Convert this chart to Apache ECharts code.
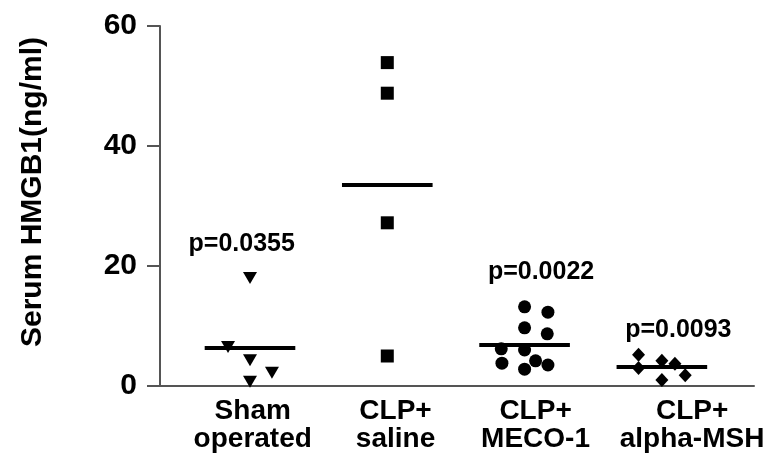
<!DOCTYPE html>
<html>
<head>
<meta charset="utf-8">
<script src="https://cdn.jsdelivr.net/npm/echarts@6/dist/echarts.min.js"></script>
<style>html,body{margin:0;padding:0;background:#fff}#c{width:772px;height:463px}</style>
</head>
<body>
<div id="c"></div>
<script>
// ---- data ----
const categories = ['Sham\noperated', 'CLP+\nsaline', 'CLP+\nMECO-1', 'CLP+\nalpha-MSH'];
const shamValues = [18, 6.5, 4.3, 2.2, 0.7];
const shamJitter = [0, -0.16, 0, 0.16, 0];
const salineValues = [53.9, 48.8, 27.2, 5.0];
const salineJitter = [0, 0, 0, 0];
const mecoValues = [13.2, 12.3, 9.7, 8.7, 6.2, 6.0, 3.8, 2.8, 4.2, 3.5];
const mecoJitter = [0, 0.17, 0, 0.165, -0.17, 0, -0.165, 0, 0.08, 0.17];
const alphaValues = [5.2, 3.0, 4.2, 3.7, 1.8, 1.0];
const alphaJitter = [-0.17, -0.17, 0, 0.095, 0.17, 0];
const groupMeans = [6.3, 33.5, 6.8, 3.2];
const pLabels = ['p=0.0355', '', 'p=0.0022', 'p=0.0093'];
const pLabelY = [23.7, null, 19, 9.3];
const pLabelShift = [-0.06, 0, 0.12, 0.12];
const xLabelShift = [0.02, 0.06, 0.08, 0.22];
const yTickMin = 0, yTickMax = 60, yTickStep = 20;

const FONT = 'Liberation Sans, Arial, sans-serif';
const groups = [
  {vals: shamValues, jit: shamJitter, symbol: 'triangle', rot: 180, size: [14, 12]},
  {vals: salineValues, jit: salineJitter, symbol: 'rect', rot: 0, size: 13},
  {vals: mecoValues, jit: mecoJitter, symbol: 'circle', rot: 0, size: 13},
  {vals: alphaValues, jit: alphaJitter, symbol: 'diamond', rot: 0, size: [13, 14]}
];

const series = groups.map((g, i) => {
  const c = i + 1;
  return {
    type: 'scatter',
    symbol: g.symbol,
    symbolRotate: g.rot,
    symbolSize: g.size,
    itemStyle: {color: '#000', opacity: 1},
    data: g.vals.map((v, k) => [c + g.jit[k], v]),
    silent: true,
    markLine: {
      silent: true,
      symbol: 'none',
      label: {show: false},
      lineStyle: {color: '#000', width: 4, type: 'solid', opacity: 1},
      data: [[{coord: [c - 0.33, groupMeans[i]]}, {coord: [c + 0.33, groupMeans[i]]}]]
    }
  };
});

series.push({
  type: 'scatter',
  symbolSize: 0,
  silent: true,
  itemStyle: {opacity: 1},
  data: pLabels.map((t, i) => [i + 1 + pLabelShift[i], pLabelY[i], t]).filter(d => d[2]),
  label: {
    show: true, position: 'inside',
    formatter: p => p.value[2],
    fontFamily: FONT, fontWeight: 'bold', fontSize: 25, color: '#000', opacity: 1
  }
});

const chart = echarts.init(document.getElementById('c'), null, {renderer: 'canvas'});
chart.setOption({
  backgroundColor: '#fff',
  animation: false,
  grid: {left: 160, right: 18, top: 26, bottom: 77, containLabel: false},
  xAxis: {
    type: 'value',
    min: 0.3445, max: 4.671,
    axisLine: {show: true, lineStyle: {color: '#555', width: 2}},
    axisTick: {show: false},
    splitLine: {show: false},
    axisLabel: {
      customValues: categories.map((c, i) => i + 1 + xLabelShift[i]),
      formatter: v => categories[Math.round(v) - 1],
      fontFamily: FONT, fontWeight: 'bold', fontSize: 28, lineHeight: 28,
      color: '#000', margin: 11
    }
  },
  yAxis: {
    type: 'value',
    min: yTickMin, max: yTickMax, interval: yTickStep,
    name: 'Serum HMGB1(ng/ml)',
    nameLocation: 'middle',
    nameGap: 112,
    nameRotate: 90,
    nameTextStyle: {fontFamily: FONT, fontWeight: 'bold', fontSize: 30, color: '#000', padding: [0, 0, 0, 28]},
    axisLine: {show: true, lineStyle: {color: '#555', width: 2}},
    axisTick: {show: true, length: 13, lineStyle: {color: '#555', width: 2}},
    splitLine: {show: false},
    axisLabel: {fontFamily: FONT, fontWeight: 'bold', fontSize: 30, color: '#000', margin: 23}
  },
  series: series
});
</script>
</body>
</html>
